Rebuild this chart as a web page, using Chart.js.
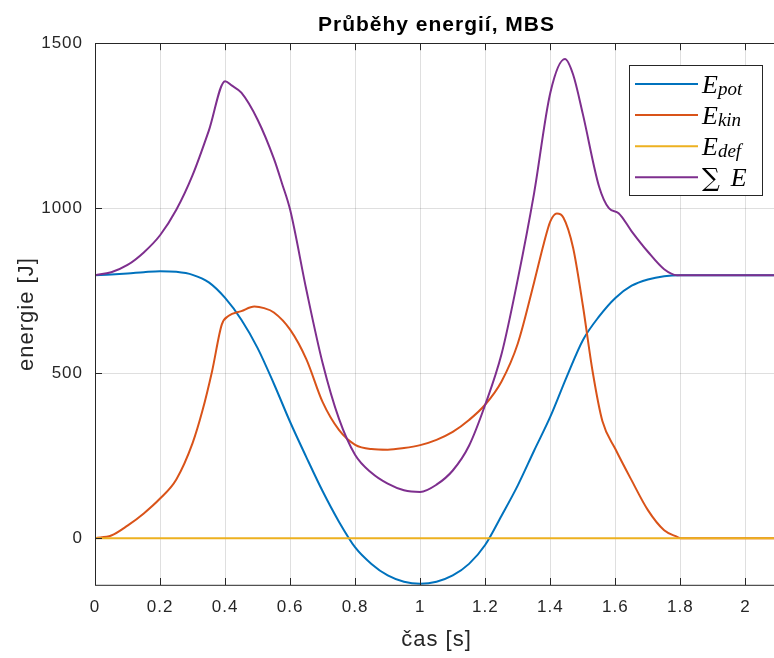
<!DOCTYPE html>
<html>
<head>
<meta charset="utf-8">
<script src="https://cdn.jsdelivr.net/npm/chart.js@4.4.0/dist/chart.umd.min.js"></script>
<style>
    body { margin: 0; overflow: hidden; background: #fff; }
    #wrap { width: 778px; height: 658px; }
</style>
</head>
<body>
<div id="wrap"><canvas id="grafEnergie" width="778" height="658"></canvas></div>
<script>
// hodnoty
const xTicks = [0, 0.2, 0.4, 0.6, 0.8, 1, 1.2, 1.4, 1.6, 1.8, 2];
const yTicks = [0, 500, 1000, 1500];

const tPot = [0, 0.05, 0.1, 0.15, 0.2, 0.25, 0.3, 0.35, 0.4, 0.45, 0.5, 0.55, 0.6, 0.65, 0.7, 0.75, 0.8, 0.85, 0.9, 0.95, 1.0,
    1.05, 1.1, 1.15, 1.2, 1.25, 1.3, 1.35, 1.4, 1.45, 1.5, 1.55, 1.6, 1.65, 1.7, 1.75, 1.8, 2.1];
const ePot = [797, 799, 802, 806, 809, 807, 798, 775, 728, 662, 576, 468, 352, 245, 142, 50, -28, -78, -113, -132, -138,
    -132, -113, -78, -20, 68, 160, 265, 368, 488, 600, 672, 728, 765, 784, 794, 797, 797];

const tKin = [0, 0.05, 0.1, 0.15, 0.2, 0.25, 0.3, 0.33, 0.36, 0.39, 0.41, 0.45, 0.49, 0.52, 0.55, 0.6, 0.65, 0.7, 0.75, 0.8,
    0.85, 0.9, 0.95, 1.0, 1.05, 1.1, 1.15, 1.2, 1.25, 1.3, 1.35, 1.38, 1.4, 1.42, 1.44, 1.47, 1.5, 1.53, 1.56, 1.6,
    1.65, 1.7, 1.75, 1.79, 1.8, 2.1];
const eKin = [0, 8, 38, 75, 120, 178, 288, 385, 506, 648, 673, 688, 702, 697, 684, 632, 542, 412, 328, 283,
    270, 268, 273, 282, 298, 322, 358, 405, 475, 590, 775, 893, 960, 984, 972, 880, 705, 505, 355, 270,
    175, 85, 24, 4, 0, 0];

const tDef = [0, 0.5, 1.0, 1.5, 2.1];
const eDef = [0, 0, 0, 0, 0];

const tSum = [0, 0.05, 0.1, 0.15, 0.2, 0.25, 0.3, 0.35, 0.4, 0.42, 0.45, 0.5, 0.55, 0.575, 0.6, 0.65, 0.7, 0.75, 0.8, 0.85, 0.9,
    0.95, 1.0, 1.05, 1.1, 1.15, 1.2, 1.25, 1.3, 1.35, 1.4, 1.445, 1.47, 1.5, 1.55, 1.58, 1.61, 1.65, 1.7, 1.75, 1.79, 2.1];
const eSum = [797, 806, 828, 866, 918, 995, 1100, 1235, 1385, 1372, 1350, 1268, 1150, 1075, 995, 752, 530, 362, 252, 198, 165,
    145, 140, 162, 205, 280, 405, 558, 785, 1045, 1350, 1452, 1405, 1285, 1065, 1000, 985, 930, 868, 815, 797, 797];

const barvy = ['#0072BD', '#D95319', '#EDB120', '#7E2F8E'];

function body(t, e) {
    return t.map((v, i) => ({ x: v, y: e[i] }));
}

// matlab ma texty trochu roztazene
const rozestup = {
    id: 'rozestup',
    beforeLayout(chart) { chart.ctx.letterSpacing = '1px'; },
    beforeDraw(chart) { chart.ctx.letterSpacing = '1px'; }
};

// ramecek a ticky dovnitr jako v matlabu
const ramecek = {
    id: 'ramecek',
    afterDatasetsDraw(chart) {
        const { ctx, chartArea: a, scales: { x, y } } = chart;
        ctx.save();
        ctx.strokeStyle = '#262626';
        ctx.lineWidth = 1;
        ctx.beginPath();
        x.ticks.forEach(t => {
            const px = Math.round(x.getPixelForValue(t.value)) + 0.5;
            ctx.moveTo(px, a.bottom); ctx.lineTo(px, a.bottom - 7);
            ctx.moveTo(px, a.top); ctx.lineTo(px, a.top + 7);
        });
        y.ticks.forEach(t => {
            const py = Math.round(y.getPixelForValue(t.value)) + 0.5;
            ctx.moveTo(a.left, py); ctx.lineTo(a.left + 7, py);
        });
        ctx.stroke();
        ctx.strokeRect(Math.round(a.left) + 0.5, Math.round(a.top) + 0.5, a.width, a.height);
        ctx.restore();
    }
};

// legenda s indexy
const legenda = {
    id: 'legenda',
    afterDraw(chart) {
        const ctx = chart.ctx;
        const x0 = 629, y0 = 65, w = 133, h = 130;
        ctx.save();
        ctx.letterSpacing = '0px';
        ctx.fillStyle = '#fff';
        ctx.fillRect(x0, y0, w, h);
        ctx.strokeStyle = '#262626';
        ctx.lineWidth = 1;
        ctx.strokeRect(x0 + 0.5, y0 + 0.5, w, h);
        chart.data.datasets.forEach((ds, i) => {
            const ry = 84 + i * 31.1;
            ctx.strokeStyle = ds.borderColor;
            ctx.lineWidth = 2;
            ctx.beginPath();
            ctx.moveTo(635, ry); ctx.lineTo(698, ry);
            ctx.stroke();
            ctx.fillStyle = '#000';
            ctx.textBaseline = 'alphabetic';
            let tx = 702;
            let text = ds.label;
            if (text.startsWith('∑')) {
                ctx.font = '25px "DejaVu Serif"';
                ctx.fillText('∑', tx, ry + 9);
                tx += ctx.measureText('∑').width + 11;
                text = text.replace('∑', '').trim();
            }
            const [hlavni, index] = text.split('_');
            ctx.font = 'italic 26px "Liberation Serif"';
            ctx.fillText(hlavni, tx, ry + 9);
            tx += ctx.measureText(hlavni).width;
            if (index) {
                ctx.font = 'italic 19px "Liberation Serif"';
                ctx.fillText(index, tx, ry + 10.5);
            }
        });
        ctx.restore();
    }
};

const pismo = 'Liberation Sans';

new Chart(document.getElementById('grafEnergie'), {
    type: 'line',
    data: {
        datasets: [
            { label: 'E_pot', data: body(tPot, ePot), borderColor: barvy[0], order: 4 },
            { label: 'E_kin', data: body(tKin, eKin), borderColor: barvy[1], order: 3 },
            { label: 'E_def', data: body(tDef, eDef), borderColor: barvy[2], order: 2 },
            { label: '∑ E', data: body(tSum, eSum), borderColor: barvy[3], order: 1 }
        ]
    },
    options: {
        responsive: false,
        animation: false,
        layout: { padding: 0 },
        elements: {
            line: { borderWidth: 2, cubicInterpolationMode: 'monotone', fill: false },
            point: { radius: 0 }
        },
        plugins: {
            legend: { display: false },
            tooltip: { enabled: false },
            title: {
                display: true,
                fullSize: false,
                text: 'Průběhy energií, MBS',
                color: '#000',
                font: { family: pismo, size: 21, weight: 'bold' },
                padding: { top: 13, bottom: 5 }
            }
        },
        scales: {
            x: {
                type: 'linear',
                min: 0,
                max: 2.1,
                afterBuildTicks: s => { s.ticks = xTicks.map(v => ({ value: v })); },
                afterFit: s => { s.height = 73; },
                grid: { color: 'rgba(38,38,38,0.15)', drawTicks: false },
                border: { display: false },
                ticks: {
                    color: '#262626',
                    padding: 12,
                    maxRotation: 0,
                    font: { family: pismo, size: 17 },
                    callback: v => String(v)
                },
                title: {
                    display: true,
                    text: 'čas [s]',
                    color: '#262626',
                    font: { family: pismo, size: 22 },
                    padding: { top: 0, bottom: 5 }
                }
            },
            y: {
                min: -142,
                max: 1500,
                afterBuildTicks: s => { s.ticks = yTicks.map(v => ({ value: v })); },
                afterFit: s => { s.width = 95; },
                grid: { color: 'rgba(38,38,38,0.15)', drawTicks: false },
                border: { display: false },
                ticks: {
                    color: '#262626',
                    padding: 12,
                    font: { family: pismo, size: 17 },
                    callback: v => String(v)
                },
                title: {
                    display: true,
                    text: 'energie [J]',
                    color: '#262626',
                    font: { family: pismo, size: 22 },
                    padding: { top: 14, bottom: 0 }
                }
            }
        }
    },
    plugins: [rozestup, ramecek, legenda]
});
</script>
</body>
</html>
